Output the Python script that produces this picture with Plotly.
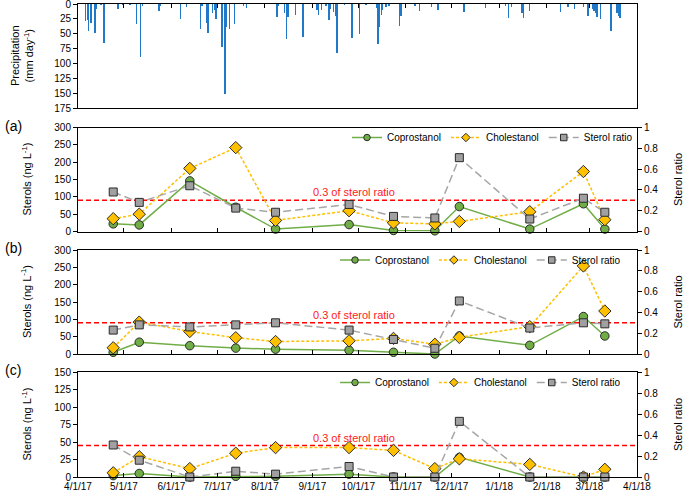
import plotly.graph_objects as go

# ---------------- data ----------------
precip_dates = [
    "2017-04-06", "2017-04-07", "2017-04-08", "2017-04-09", "2017-04-10", "2017-04-12",
    "2017-04-13", "2017-04-16", "2017-04-18", "2017-04-27", "2017-04-30", "2017-05-05",
    "2017-05-09", "2017-05-12", "2017-05-13", "2017-05-24", "2017-05-25", "2017-06-07",
    "2017-06-11", "2017-06-20", "2017-06-21", "2017-06-24", "2017-06-25", "2017-06-28",
    "2017-06-29", "2017-06-30", "2017-07-04", "2017-07-06", "2017-07-07", "2017-07-09",
    "2017-07-12", "2017-07-18", "2017-07-20", "2017-08-09", "2017-08-10", "2017-08-14",
    "2017-08-15", "2017-08-16", "2017-08-21", "2017-08-26", "2017-09-04", "2017-09-05",
    "2017-09-07", "2017-09-10", "2017-09-12", "2017-09-13", "2017-09-15", "2017-09-16",
    "2017-09-17", "2017-09-22", "2017-09-27", "2017-10-02", "2017-10-06", "2017-10-13",
    "2017-10-14", "2017-10-15", "2017-10-16", "2017-10-17", "2017-10-19", "2017-10-21",
    "2017-10-28", "2017-10-29", "2017-11-07", "2017-11-10", "2017-11-18", "2017-11-22",
    "2017-12-09", "2017-12-23", "2018-01-05", "2018-01-07", "2018-01-09", "2018-01-16",
    "2018-01-17", "2018-01-21", "2018-02-10", "2018-02-15", "2018-02-19", "2018-02-25",
    "2018-02-28", "2018-03-03", "2018-03-04", "2018-03-05", "2018-03-06", "2018-03-08",
    "2018-03-15", "2018-03-19", "2018-03-20", "2018-03-21",
]
precip_mm = [
    28, 27, 45, 32, 32, 49,
    9, 2, 65, 9, 2, 2,
    33, 89, 4, 11, 4, 26,
    5, 42, 3, 32, 49, 15,
    10, 26, 73, 152, 38, 42,
    33, 4, 7, 22, 3, 15,
    59, 22, 18, 55, 10, 18,
    10, 4, 27, 8, 14, 20,
    83, 2, 57, 51, 2, 7,
    67, 38, 18, 10, 5, 3,
    37, 20, 3, 12, 5, 10,
    14, 7, 3, 24, 5, 15,
    24, 11, 14, 5, 8, 5,
    20, 8, 11, 15, 22, 25,
    46, 15, 21, 24,
]

sample_dates = [
    "2017-04-24", "2017-05-11", "2017-06-13", "2017-07-13", "2017-08-08", "2017-09-25",
    "2017-10-24", "2017-11-20", "2017-12-06", "2018-01-21", "2018-02-25", "2018-03-11",
]

copro_a = [22, 19, 146, 70, 7, 20, 3, 2, 72, 7, 80, 7]
chole_a = [37, 50, 182, 242, 32, 60, 25, 22, 29, 57, 173, 34]
ratio_a = [0.38, 0.28, 0.44, 0.225, 0.185, 0.26, 0.145, 0.13, 0.71, 0.12, 0.32, 0.185]

copro_b = [5, 34, 24, 17, 14, 11, 5, 0, 52, 25, 108, 52]
chole_b = [18, 92, 65, 47, 36, 38, 45, 28, 48, 79, 254, 124]
ratio_b = [0.23, 0.28, 0.26, 0.28, 0.30, 0.23, 0.14, 0.055, 0.51, 0.25, 0.30, 0.29]

copro_c = [2, 5, 0, 1, 1, 4, 0, 0, 28, 0, 0, 0]
chole_c = [6, 29, 12, 34, 42, 42, 38, 12, 26, 18, 0, 11]
ratio_c = [0.305, 0.16, 0.0, 0.055, 0.027, 0.10, 0.0, 0.0, 0.53, 0.0, 0.0, 0.0]

series_names = ["Coprostanol", "Cholestanol", "Sterol ratio"]
panel_labels = ["(a)", "(b)", "(c)"]
THRESHOLD = 0.3
threshold_text = "0.3 of sterol ratio"
threshold_text_date = "2017-09-28"
x_range = ["2017-04-01", "2018-04-01"]

# ---------------- figure ----------------
W, H = 685, 494
ML, MR, MT, MB = 78, 48, 4, 17
PH = H - MT - MB


def py(p):
    return (H - MB - p) / PH


def px(p):
    return (p - ML) / (W - ML - MR)


FONT = "Liberation Sans, Arial, sans-serif"
fig = go.Figure()

fig.add_trace(go.Bar(
    x=precip_dates, y=precip_mm, xaxis="x", yaxis="y",
    marker=dict(color="#1f78c8", line=dict(width=0)),
    width=0.9 * 86400000, showlegend=False,
))

STY = [
    dict(line=dict(color="#70AD47", width=1.5), symbol="circle", size=8.5, mcolor="#70AD47"),
    dict(line=dict(color="#FFC000", width=1.5, dash="3px,2px"), symbol="diamond", size=9.5, mcolor="#FFC000"),
    dict(line=dict(color="#A6A6A6", width=1.5, dash="8px,4px"), symbol="square", size=8, mcolor="#A0A0A0"),
]

panels = [
    ("x2", "y2", "y3", "legend", copro_a, chole_a, ratio_a),
    ("x3", "y4", "y5", "legend2", copro_b, chole_b, ratio_b),
    ("x4", "y6", "y7", "legend3", copro_c, chole_c, ratio_c),
]
for xa, yl, yr, lg, cp, ch, rt in panels:
    for vals, ya, st, nm in zip([cp, ch, rt], [yl, yl, yr], STY, series_names):
        fig.add_trace(go.Scatter(
            x=sample_dates, y=vals, xaxis=xa, yaxis=ya, name=nm, showlegend=False,
            mode="lines+markers", line=st["line"], cliponaxis=False,
            marker=dict(symbol=st["symbol"], size=st["size"], color=st["mcolor"],
                        line=dict(color="#2a2a2a", width=1)),
        ))
    # legend-only entries with smaller symbols
    for ya, st, nm in zip([yl, yl, yr], STY, series_names):
        fig.add_trace(go.Scatter(
            x=[None], y=[None], xaxis=xa, yaxis=ya, name=nm, legend=lg,
            mode="lines+markers", line=st["line"],
            marker=dict(symbol=st["symbol"], size=6.5, color=st["mcolor"],
                        line=dict(color="#2a2a2a", width=1)),
        ))
    fig.add_shape(type="line", xref=f"{xa} domain", x0=0, x1=1, yref=yr,
                  y0=THRESHOLD, y1=THRESHOLD, layer="below",
                  line=dict(color="#FF0000", width=1.5, dash="5px,3px"))
    fig.add_annotation(x=threshold_text_date, y=THRESHOLD, xref=xa, yref=yr, text=threshold_text,
                       showarrow=False, yanchor="bottom", xanchor="center",
                       font=dict(color="#FF2020", size=11, family=FONT))

tickfont = dict(size=10, color="black", family=FONT)
title_font = dict(size=11, color="black", family=FONT)


def xax(domain_anchor, show_labels=False, side="bottom"):
    return dict(
        type="date", range=x_range, anchor=domain_anchor, domain=[0, 1],
        tickmode="linear", tick0=x_range[0], dtick="M1", tickformat="%-m/%-d/%y",
        ticks="inside", ticklen=4, tickcolor="black", side=side,
        showticklabels=show_labels, tickfont=tickfont, ticklabeloverflow="allow",
        showline=True, linecolor="black", linewidth=1, mirror=True,
        showgrid=False, zeroline=False,
    )


def yleft(dom, rng, dtick, anchor):
    return dict(domain=dom, range=rng, dtick=dtick, tick0=0, anchor=anchor,
                ticks="outside", ticklen=4, tickcolor="black", tickfont=tickfont,
                ticklabeloverflow="allow",
                showline=True, linecolor="black", linewidth=1,
                showgrid=False, zeroline=False)


def yright(over, anchor):
    return dict(overlaying=over, side="right", anchor=anchor, range=[0, 1], dtick=0.2, tick0=0,
                ticks="outside", ticklen=4, tickcolor="black", tickfont=tickfont,
                ticklabeloverflow="allow",
                title=dict(text="Sterol ratio", font=title_font, standoff=16),
                showline=True, linecolor="black", linewidth=1,
                showgrid=False, zeroline=False)


dom_p = [py(108), 1.0]
dom_a = [py(231.5), py(127.5)]
dom_b = [py(354), py(250)]
dom_c = [0.0, py(372)]

yprec = yleft(dom_p, [175, 0], 25, "x")
yprec.update(mirror=True)

legend_common = dict(orientation="h", bgcolor="rgba(0,0,0,0)", font=dict(size=10, color="black", family=FONT),
                     xanchor="right", yanchor="middle", itemwidth=30, tracegroupgap=0)

fig.update_layout(
    width=W, height=H, margin=dict(l=ML, r=MR, t=MT, b=MB, autoexpand=False),
    paper_bgcolor="white", plot_bgcolor="white",
    font=dict(family=FONT, color="black"),
    bargap=0,
    xaxis=xax("y", side="top"),
    xaxis2=xax("y2"),
    xaxis3=xax("y4"),
    xaxis4=xax("y6", show_labels=True),
    yaxis=yprec,
    yaxis2=yleft(dom_a, [0, 300], 50, "x2"),
    yaxis3=yright("y2", "x2"),
    yaxis4=yleft(dom_b, [0, 300], 50, "x3"),
    yaxis5=yright("y4", "x3"),
    yaxis6=yleft(dom_c, [0, 150], 25, "x4"),
    yaxis7=yright("y6", "x4"),
    legend=dict(legend_common, x=px(638), y=py(137.5)),
    legend2=dict(legend_common, x=px(626), y=py(260)),
    legend3=dict(legend_common, x=px(626), y=py(382.5)),
)

# axis titles and panel labels
fig.add_annotation(xref="paper", yref="paper", x=px(22), y=(dom_p[0] + dom_p[1]) / 2,
                   text="Precipitation<br>(mm day<sup>-1</sup>)", textangle=-90, showarrow=False,
                   xanchor="center", yanchor="middle", font=title_font)
for dom, lab in zip([dom_a, dom_b, dom_c], panel_labels):
    mid = (dom[0] + dom[1]) / 2
    fig.add_annotation(xref="paper", yref="paper", x=px(26), y=mid,
                       text="Sterols (ng L<sup>-1</sup>)", textangle=-90, showarrow=False,
                       xanchor="center", yanchor="middle", font=title_font)
    fig.add_annotation(xref="paper", yref="paper", x=px(13), y=dom[1] + 0.004,
                       text=lab, showarrow=False, xanchor="center", yanchor="middle",
                       font=dict(size=14, color="black", family=FONT))

fig.write_html(
    "out.html",
    config={"displayModeBar": False, "staticPlot": True},
    post_script="document.body.style.margin='0';document.body.style.overflow='hidden';",
)
